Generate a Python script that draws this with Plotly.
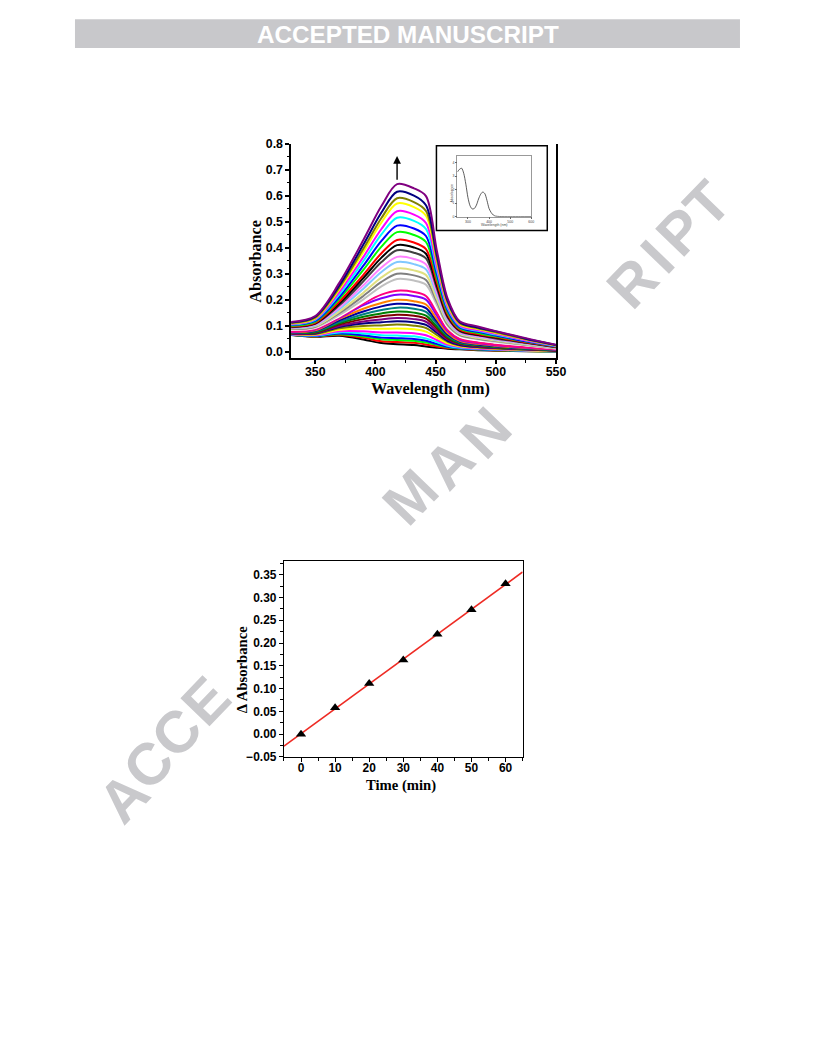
import numpy as np
import plotly.graph_objects as go

# ---------------- data ----------------
wavelength_nm = [330, 350, 370, 390, 405, 418, 432, 442, 451, 460, 470, 485, 500, 525, 550]

spectrum_01 = [0.065, 0.058, 0.062, 0.048, 0.034, 0.030, 0.027, 0.021, 0.016, 0.012, 0.010, 0.007, 0.005, 0.003, 0.002]
spectrum_02 = [0.066, 0.059, 0.065, 0.054, 0.041, 0.038, 0.035, 0.029, 0.021, 0.015, 0.012, 0.008, 0.006, 0.004, 0.002]
spectrum_03 = [0.066, 0.060, 0.068, 0.059, 0.049, 0.046, 0.043, 0.036, 0.027, 0.018, 0.013, 0.009, 0.007, 0.004, 0.003]
spectrum_04 = [0.066, 0.061, 0.071, 0.064, 0.055, 0.053, 0.050, 0.043, 0.031, 0.020, 0.014, 0.010, 0.008, 0.005, 0.003]
spectrum_05 = [0.067, 0.063, 0.075, 0.071, 0.064, 0.063, 0.060, 0.052, 0.038, 0.024, 0.016, 0.012, 0.009, 0.005, 0.003]
spectrum_06 = [0.068, 0.065, 0.079, 0.079, 0.075, 0.075, 0.072, 0.064, 0.046, 0.028, 0.019, 0.013, 0.010, 0.006, 0.004]
spectrum_07 = [0.069, 0.067, 0.085, 0.090, 0.089, 0.090, 0.087, 0.078, 0.055, 0.033, 0.022, 0.016, 0.012, 0.007, 0.004]
spectrum_08 = [0.070, 0.069, 0.091, 0.100, 0.102, 0.105, 0.101, 0.092, 0.065, 0.039, 0.025, 0.018, 0.013, 0.009, 0.005]
spectrum_09 = [0.071, 0.071, 0.096, 0.109, 0.114, 0.118, 0.114, 0.104, 0.074, 0.043, 0.027, 0.019, 0.015, 0.009, 0.005]
spectrum_10 = [0.071, 0.073, 0.100, 0.117, 0.125, 0.130, 0.126, 0.116, 0.081, 0.048, 0.030, 0.021, 0.016, 0.010, 0.006]
spectrum_11 = [0.072, 0.075, 0.105, 0.126, 0.137, 0.143, 0.139, 0.128, 0.090, 0.052, 0.032, 0.023, 0.018, 0.011, 0.006]
spectrum_12 = [0.073, 0.076, 0.110, 0.135, 0.148, 0.155, 0.151, 0.139, 0.098, 0.057, 0.034, 0.025, 0.019, 0.012, 0.007]
spectrum_13 = [0.074, 0.079, 0.115, 0.145, 0.161, 0.170, 0.166, 0.154, 0.108, 0.062, 0.037, 0.027, 0.021, 0.013, 0.008]
spectrum_14 = [0.075, 0.081, 0.121, 0.155, 0.175, 0.185, 0.181, 0.168, 0.117, 0.067, 0.040, 0.029, 0.022, 0.014, 0.008]
spectrum_15 = [0.076, 0.083, 0.127, 0.166, 0.188, 0.200, 0.195, 0.182, 0.127, 0.073, 0.043, 0.031, 0.024, 0.015, 0.009]
spectrum_16 = [0.077, 0.086, 0.130, 0.180, 0.206, 0.220, 0.215, 0.201, 0.140, 0.080, 0.047, 0.034, 0.026, 0.017, 0.009]
spectrum_17 = [0.078, 0.088, 0.133, 0.186, 0.220, 0.235, 0.230, 0.215, 0.150, 0.085, 0.050, 0.036, 0.028, 0.018, 0.010]
spectrum_18 = [0.085, 0.092, 0.137, 0.192, 0.235, 0.260, 0.255, 0.240, 0.170, 0.095, 0.060, 0.046, 0.037, 0.025, 0.013]
spectrum_19 = [0.087, 0.094, 0.142, 0.202, 0.252, 0.280, 0.274, 0.258, 0.181, 0.101, 0.063, 0.049, 0.039, 0.026, 0.014]
spectrum_20 = [0.088, 0.097, 0.149, 0.215, 0.269, 0.300, 0.294, 0.276, 0.193, 0.106, 0.066, 0.051, 0.042, 0.028, 0.015]
spectrum_21 = [0.090, 0.099, 0.155, 0.227, 0.286, 0.320, 0.313, 0.295, 0.204, 0.112, 0.069, 0.054, 0.044, 0.029, 0.015]
spectrum_22 = [0.092, 0.102, 0.164, 0.243, 0.307, 0.345, 0.337, 0.317, 0.219, 0.119, 0.073, 0.058, 0.047, 0.031, 0.016]
spectrum_23 = [0.093, 0.105, 0.171, 0.256, 0.324, 0.365, 0.357, 0.336, 0.230, 0.125, 0.076, 0.060, 0.049, 0.033, 0.017]
spectrum_24 = [0.095, 0.108, 0.179, 0.271, 0.345, 0.390, 0.381, 0.359, 0.245, 0.132, 0.080, 0.064, 0.052, 0.035, 0.018]
spectrum_25 = [0.097, 0.110, 0.186, 0.284, 0.362, 0.410, 0.401, 0.377, 0.256, 0.138, 0.083, 0.066, 0.055, 0.036, 0.019]
spectrum_26 = [0.098, 0.112, 0.193, 0.296, 0.379, 0.430, 0.420, 0.395, 0.268, 0.144, 0.086, 0.069, 0.057, 0.037, 0.020]
spectrum_27 = [0.101, 0.116, 0.203, 0.315, 0.404, 0.460, 0.449, 0.422, 0.285, 0.152, 0.090, 0.073, 0.060, 0.040, 0.021]
spectrum_28 = [0.103, 0.119, 0.211, 0.331, 0.426, 0.485, 0.474, 0.445, 0.299, 0.160, 0.094, 0.077, 0.063, 0.041, 0.022]
spectrum_29 = [0.105, 0.123, 0.221, 0.349, 0.451, 0.515, 0.503, 0.472, 0.316, 0.168, 0.099, 0.081, 0.067, 0.044, 0.023]
spectrum_30 = [0.107, 0.126, 0.230, 0.365, 0.472, 0.540, 0.527, 0.495, 0.330, 0.175, 0.102, 0.084, 0.070, 0.045, 0.024]
spectrum_31 = [0.109, 0.129, 0.240, 0.384, 0.497, 0.570, 0.556, 0.523, 0.348, 0.184, 0.107, 0.088, 0.073, 0.048, 0.025]
spectrum_32 = [0.111, 0.132, 0.247, 0.396, 0.514, 0.590, 0.575, 0.541, 0.359, 0.190, 0.110, 0.091, 0.076, 0.049, 0.026]
spectrum_33 = [0.113, 0.135, 0.255, 0.412, 0.535, 0.615, 0.600, 0.563, 0.373, 0.197, 0.114, 0.094, 0.079, 0.051, 0.027]
spectrum_34 = [0.115, 0.138, 0.265, 0.430, 0.560, 0.644, 0.628, 0.598, 0.390, 0.205, 0.118, 0.098, 0.080, 0.053, 0.028]

curve_colors = [
    "#000000", "#FF0000", "#00FF00", "#0000FF", "#00FFFF", "#FF00FF", "#FFFF00", "#808000",
    "#000080", "#800080", "#800000", "#008000", "#008080", "#0000A0", "#FF8000", "#8000FF",
    "#FF0080", "#FFFFFF", "#C0C0C0", "#808080", "#E0E080", "#80C8FF", "#FF80FF", "#404040",
    "#000000", "#FF0000", "#00FF00", "#0000FF", "#00FFFF", "#FF00FF", "#FFFF00", "#808000",
    "#000080", "#800080",
]

inset_wavelength = [250, 260, 270, 280, 290, 300, 310, 320, 330, 340, 350, 360, 370, 380,
                    390, 400, 410, 420, 430, 450, 500, 550, 600]
inset_absorbance = [3.30, 3.50, 3.58, 3.20, 2.40, 1.40, 0.80, 0.57, 0.60, 0.85, 1.30, 1.65,
                    1.82, 1.70, 1.20, 0.60, 0.30, 0.12, 0.04, 0.01, 0.0, 0.0, 0.0]

time_min = [0, 10, 20, 30, 40, 50, 60]
delta_absorbance = [0.000, 0.058, 0.111, 0.163, 0.219, 0.273, 0.330]
fit_time_range = [-5, 65]

spectra = [spectrum_01, spectrum_02, spectrum_03, spectrum_04, spectrum_05, spectrum_06,
           spectrum_07, spectrum_08, spectrum_09, spectrum_10, spectrum_11, spectrum_12,
           spectrum_13, spectrum_14, spectrum_15, spectrum_16, spectrum_17, spectrum_18,
           spectrum_19, spectrum_20, spectrum_21, spectrum_22, spectrum_23, spectrum_24,
           spectrum_25, spectrum_26, spectrum_27, spectrum_28, spectrum_29, spectrum_30,
           spectrum_31, spectrum_32, spectrum_33, spectrum_34]

# ---------------- page geometry (page pixel -> paper fraction) ----------------
W, H = 800, 1034          # figure size
OFF_X, OFF_Y = 8, 14      # figure origin on the page
S = 0.989                 # page -> photo scale observed
def px(x):
    return (x / S - OFF_X) / W
def py(y):
    return 1 - (y / S - OFF_Y) / H
def fs(v):
    return v / S

SANS = "Liberation Sans, Arial, sans-serif"
SERIF = "Liberation Serif, Times New Roman, serif"

fig = go.Figure()

for spec, col in zip(spectra, curve_colors):
    fig.add_trace(go.Scatter(
        x=wavelength_nm, y=spec, mode="lines",
        line=dict(color=col, width=2, shape="spline", smoothing=0.9),
        xaxis="x", yaxis="y", showlegend=False, hoverinfo="skip"))

fig.add_trace(go.Scatter(
    x=inset_wavelength, y=inset_absorbance, mode="lines",
    line=dict(color="#333333", width=0.8, shape="spline", smoothing=0.8),
    xaxis="x2", yaxis="y2", showlegend=False, hoverinfo="skip"))

slope, intercept = np.polyfit(time_min, delta_absorbance, 1)
fit_y = [slope * t + intercept for t in fit_time_range]
fig.add_trace(go.Scatter(
    x=fit_time_range, y=fit_y, mode="lines",
    line=dict(color="#EE2B24", width=1.6),
    xaxis="x3", yaxis="y3", showlegend=False, hoverinfo="skip"))
fig.add_trace(go.Scatter(
    x=time_min, y=delta_absorbance, mode="markers",
    marker=dict(symbol="triangle-up", size=9, color="black"),
    xaxis="x3", yaxis="y3", showlegend=False, hoverinfo="skip"))

tick_font = dict(family=SANS, size=fs(12.2), color="black", weight="bold")
tick_font_small = dict(family=SANS, size=fs(11.8), color="black", weight="bold")
inset_font = dict(family=SANS, size=3.5, color="#444444")

axis_common = dict(showgrid=False, zeroline=False, showline=True, linecolor="black",
                   ticks="outside", tickcolor="black")

fig.update_layout(
    width=W, height=H,
    margin=dict(l=0, r=0, t=0, b=0),
    paper_bgcolor="white", plot_bgcolor="white",
    showlegend=False,
    xaxis=dict(axis_common, domain=[px(291.5), px(556.7)], range=[330, 550], anchor="y",
               tick0=350, dtick=50, ticklen=4, tickwidth=1.5, linewidth=1.5,
               ticklabelstandoff=-3,
               minor=dict(ticks="outside", dtick=25, ticklen=2.5, tickwidth=1.2, tickcolor="black"),
               tickfont=tick_font),
    yaxis=dict(axis_common, domain=[py(358.2), py(142.7)], range=[-0.025, 0.8], anchor="x",
               tick0=0, dtick=0.1, tickformat=".1f", ticklen=4, tickwidth=1.5, linewidth=1.5,
               mirror=True,
               minor=dict(ticks="outside", dtick=0.05, ticklen=2.5, tickwidth=1.2, tickcolor="black"),
               tickfont=tick_font),
    xaxis2=dict(showgrid=False, zeroline=False, showline=True, linecolor="#999999", linewidth=0.6,
                mirror=True, ticks="outside", ticklen=1.5, tickwidth=0.5, tickcolor="#666666",
                domain=[px(458), px(532)], range=[250, 600], anchor="y2",
                tickvals=[300, 400, 500, 600], tickfont=inset_font),
    yaxis2=dict(showgrid=False, zeroline=False, showline=True, linecolor="#999999", linewidth=0.6,
                mirror=True, ticks="outside", ticklen=1.5, tickwidth=0.5, tickcolor="#666666",
                domain=[py(216), py(155)], range=[0, 4.5], anchor="x2",
                tickvals=[0, 1, 2, 3, 4], tickfont=inset_font),
    xaxis3=dict(axis_common, domain=[px(284.3), px(523.3)], range=[-5, 65], anchor="y3",
                tick0=0, dtick=10, ticklen=4, tickwidth=1.3, linewidth=1.3, mirror=True,
                ticklabelstandoff=-4,
                minor=dict(ticks="outside", dtick=5, ticklen=2.5, tickwidth=1, tickcolor="black"),
                tickfont=tick_font_small),
    yaxis3=dict(axis_common, domain=[py(757.7), py(561.7)], range=[-0.05, 0.379], anchor="x3",
                tick0=0, dtick=0.05, tickformat=".2f", ticklen=4, tickwidth=1.3, linewidth=1.3,
                mirror=True,
                minor=dict(ticks="outside", dtick=0.025, ticklen=2.5, tickwidth=1, tickcolor="black"),
                tickfont=tick_font_small),
)

shapes = [
    dict(type="rect", xref="paper", yref="paper", x0=px(75), x1=px(741), y0=py(47), y1=py(18),
         fillcolor="#C8C8CB", line=dict(width=0), layer="below"),
    dict(type="rect", xref="paper", yref="paper", x0=px(437), x1=px(548), y0=py(230), y1=py(145),
         fillcolor="rgba(0,0,0,0)", line=dict(color="black", width=1.5)),
]
fig.update_layout(shapes=shapes)

annotations = []
annotations.append(dict(text="ACCEPTED MANUSCRIPT", x=px(408.5), y=py(33.5), xref="paper", yref="paper",
                        showarrow=False, xanchor="center", yanchor="middle",
                        font=dict(family=SANS, size=fs(24), color="white", weight="bold")))

# watermark letters (only those not hidden behind the figures)
wm_letters = [("A", 123, 798), ("C", 148, 765), ("C", 176, 733), ("E", 206, 701),
              ("M", 411, 497), ("A", 449, 463), ("N", 486, 432),
              ("R", 633, 282), ("I", 658, 256), ("P", 681, 231), ("T", 708, 203)]
for ch, xx, yy in wm_letters:
    annotations.append(dict(text=ch, x=px(xx), y=py(yy), xref="paper", yref="paper",
                            showarrow=False, xanchor="center", yanchor="middle", textangle=-46,
                            font=dict(family=SANS, size=fs(58), color="#C9C9CC", weight="bold")))

annotations += [
    dict(text="Absorbance", x=px(255), y=py(260.5), xref="paper", yref="paper", showarrow=False,
         textangle=-90, xanchor="center", yanchor="middle",
         font=dict(family=SERIF, size=fs(16), color="black", weight="bold")),
    dict(text="Wavelength (nm)", x=px(431), y=py(389), xref="paper", yref="paper", showarrow=False,
         xanchor="center", yanchor="middle",
         font=dict(family=SERIF, size=fs(16), color="black", weight="bold")),
    dict(text="Δ Absorbance", x=px(243), y=py(670), xref="paper", yref="paper", showarrow=False,
         textangle=-90, xanchor="center", yanchor="middle",
         font=dict(family=SERIF, size=fs(14.5), color="black", weight="bold")),
    dict(text="Time (min)", x=px(402), y=py(786), xref="paper", yref="paper", showarrow=False,
         xanchor="center", yanchor="middle",
         font=dict(family=SERIF, size=fs(14.5), color="black", weight="bold")),
    dict(text="Absorbance", x=px(452.5), y=py(192), xref="paper", yref="paper", showarrow=False,
         textangle=-90, xanchor="center", yanchor="middle", font=inset_font),
    dict(text="Wavelength (nm)", x=px(495), y=py(224), xref="paper", yref="paper", showarrow=False,
         xanchor="center", yanchor="middle", font=inset_font),
    dict(text="", x=418, y=0.752, ax=418, ay=0.655, xref="x", yref="y", axref="x", ayref="y",
         showarrow=True, arrowhead=2, arrowsize=1.1, arrowwidth=1.4, arrowcolor="black"),
]
fig.update_layout(annotations=annotations)

fig.write_html("out.html")
